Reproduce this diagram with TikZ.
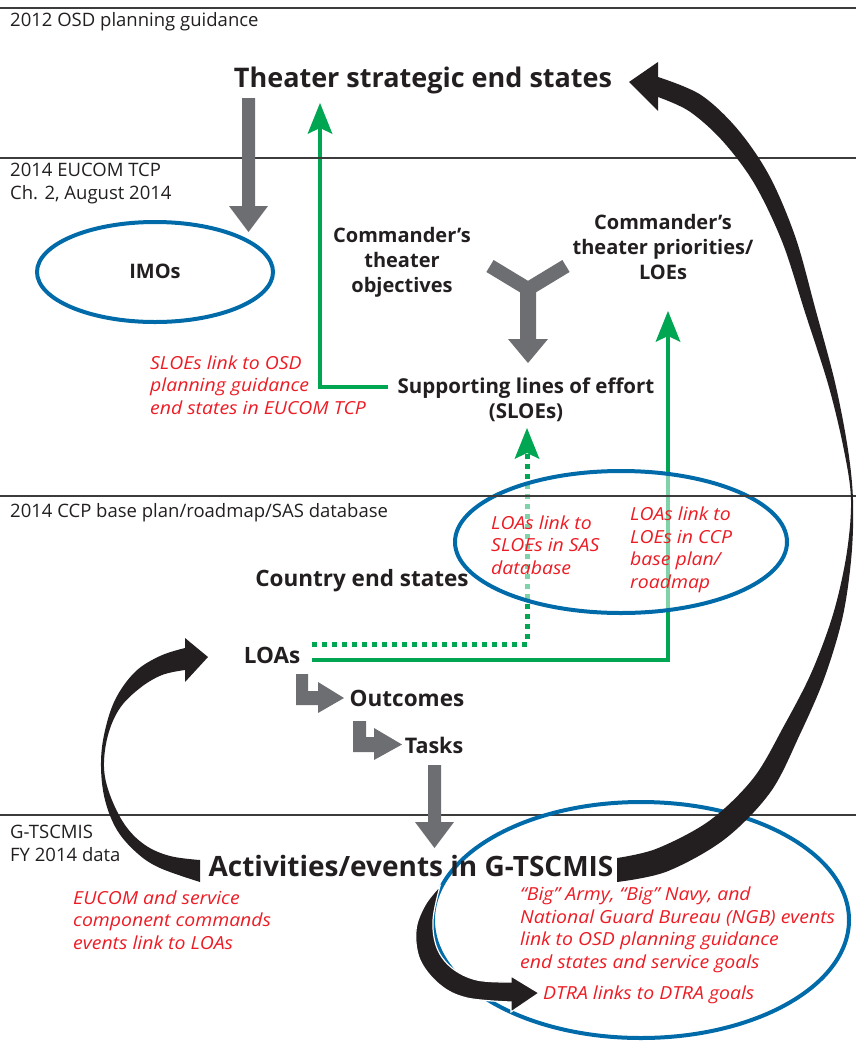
\documentclass[tikz,border=0pt]{standalone}
\usepackage{fontspec}
\setmainfont{Open Sans}
\newfontfamily\notefont{Open Sans}[FakeStretch=1.08]
\usetikzlibrary{arrows.meta,shapes.geometric}
\definecolor{tblack}{RGB}{35,31,32}
\definecolor{tred}{RGB}{237,28,36}
\definecolor{tgreen}{RGB}{0,166,81}
\definecolor{tblue}{RGB}{0,107,168}
\definecolor{tgray}{RGB}{109,110,113}
\definecolor{tline}{RGB}{60,60,60}
\tikzset{
  sect/.style={font=\fontsize{18.5}{23}\selectfont, text=tblack, anchor=west, align=left, inner sep=0pt},
  bnode/.style={font=\bfseries\fontsize{20}{25}\selectfont, text=tblack, align=center, inner sep=0pt},
  lownode/.style={bnode, font=\bfseries\fontsize{22.5}{25}\selectfont},
  rnote/.style={font=\notefont\itshape\fontsize{18}{22.5}\selectfont, text=tred, anchor=west, align=left, inner sep=0pt},
  sepline/.style={draw=tline, line width=1.1pt},
  gline/.style={draw=tgreen, line width=4.5pt},
  gdots/.style={draw=tgreen, line width=5pt, dash pattern=on 5pt off 5pt},
  ghead/.style={fill=tgreen},
  blockarrow/.style={fill=tgray},
  bigarrow/.style={fill=tblack},
  ring/.style={draw=tblue, line width=4pt},
}
\begin{document}
\begin{tikzpicture}[x=1pt,y=-1pt]
\useasboundingbox (0,0) rectangle (856,1042);

% ---------- green connectors ----------
\coordinate (g1a) at (388,387);
\coordinate (g1b) at (320,128);
\draw[gline] (g1a) -| (g1b);
\fill[ghead] (320,103) -- (332.5,134) -- (320,128) -- (307.5,134) -- cycle;

\coordinate (g2a) at (312,660);
\coordinate (g2b) at (668,336);
\draw[gline] (g2a) -| (g2b);
\fill[ghead] (668,311) -- (680.5,342) -- (668,336) -- (655.5,342) -- cycle;

\coordinate (d1) at (312,644);
\coordinate (d2) at (527,452);
\draw[gdots] (d1) -| (d2);
\fill[ghead] (527,428) -- (539.5,459) -- (527,453) -- (514.5,459) -- cycle;

% ---------- middle ellipse (semi-transparent) ----------
\node[ring, ellipse, minimum width=332pt, minimum height=142pt, fill=white, fill opacity=0.5, draw opacity=1] (midring) at (621,542) {};

% ---------- separator lines ----------
\draw[sepline] (0,8) -- (856,8);
\draw[sepline] (0,158) -- (856,158);
\draw[sepline] (0,496) -- (856,496);
\draw[sepline] (0,815) -- (856,815);

% ---------- other ellipses ----------
\node[ring, ellipse, minimum width=236pt, minimum height=100pt] (imoring) at (155,272) {};
\node[ring, ellipse, minimum width=416pt, minimum height=236pt] (botring) at (641,920) {};

% ---------- gray block arrows ----------
\fill[blockarrow] (242,98) -- (255,98) -- (255,206) -- (268,206) -- (248.5,232) -- (229,206) -- (242,206) -- cycle;
\fill[blockarrow] (428,765) -- (441,765) -- (441,822) -- (454,822) -- (434.5,848) -- (415,822) -- (428,822) -- cycle;
% Y shape
\draw[tgray, line width=14pt, line join=miter] (490,266) -- (528,289) -- (566,266);
\fill[blockarrow] (520,284) -- (536,284) -- (536,339) -- (548,339) -- (528,363) -- (508,339) -- (520,339) -- cycle;
% elbow arrows
\fill[blockarrow] (296,674) -- (308,674) -- (308,691) -- (318,691) -- (318,682) -- (344,698) -- (318,713) -- (318,705) -- (296,705) -- cycle;
\fill[blockarrow] (353,721) -- (366,721) -- (366,737) -- (374,737) -- (374,728) -- (402,744.5) -- (374,760) -- (374,752) -- (353,752) -- cycle;

% ---------- black curved arrows ----------
% right big arrow (outer edge, then inner edge back)
\fill[bigarrow] plot[smooth, tension=0.55] coordinates {(658,77) (700.5,94.7) (737.4,129) (769.5,176.1) (795.5,237.4) (815.2,308.3) (835.4,384.1) (848,449.7) (853,500) (851.5,555.3) (842.8,616.3) (824.5,677.6) (799.9,734.4) (770.6,791.9) (724.4,839.4) (666.9,871.5) (617,882)}
  -- (617,858)
  -- plot[smooth, tension=0.55] coordinates {(617,858) (657.1,848.5) (709.6,820.6) (753.4,778.1) (784.1,725.6) (811.5,672.4) (833.2,613.8) (846.5,554.7) (851,500) (844,450.3) (828.6,385.9) (804.8,311.7) (782.5,242.6) (754.5,183.9) (722.6,141) (689.5,111.4) (658,97)}
  -- cycle;
\fill[bigarrow] (658,62) -- (629,82) -- (658,111) -- cycle;
% left arrow
\fill[bigarrow] plot[smooth, tension=0.6] coordinates {(185,648) (160,656) (135,672) (115,700) (104,735) (101,767) (105,800) (117,830) (137,853) (160,868) (200,882)}
  -- (200,860)
  -- plot[smooth, tension=0.6] coordinates {(200,860) (170,856) (145,845) (125,825) (110,795) (104,767) (108,735) (120,708) (140,688) (162,675) (185,670)}
  -- cycle;
\fill[bigarrow] (185,638) -- (208,657) -- (185,682) -- cycle;
% DTRA arrow
\filldraw[bigarrow, draw=white, line width=1.2pt] plot[smooth, tension=0.6] coordinates {(440,886) (425,905) (416,930) (420,960) (440,985) (467,998) (511,1002)}
  -- (511,1012) -- (539,993) -- (511,976) -- (511,982)
  -- plot[smooth, tension=0.6] coordinates {(511,982) (477,980) (452,968) (437,948) (433,920) (440,886)}
  -- cycle;

% ---------- section labels ----------
\node[sect] (s1) at (10,22) {2012 OSD planning guidance};
\node[sect] (s2) at (10,184) {2014 EUCOM TCP\\Ch. 2, August 2014};
\node[sect] (s3) at (10,513) {2014 CCP base plan/roadmap/SAS database};
\node[sect] (s4) at (10,843) {G-TSCMIS\\FY 2014 data};

% ---------- main labels ----------
\node[bnode, font=\bfseries\fontsize{27}{30}\selectfont] (theater) at (423,80) {Theater strategic end states};
\node[bnode] (imo) at (155,271) {IMOs};
\node[bnode] (cto) at (402,262) {Commander’s\\theater\\objectives};
\node[bnode] (ctp) at (663,247) {Commander’s\\theater priorities/\\LOEs};
\node[bnode, font=\bfseries\fontsize{20.5}{25}\selectfont] (sloe) at (526,400) {Supporting lines of effort\\(SLOEs)};
\node[lownode] (ces) at (362,581) {Country end states};
\node[lownode] (loa) at (272,655) {LOAs};
\node[lownode] (out) at (407,698) {Outcomes};
\node[lownode, font=\bfseries\fontsize{21.5}{25}\selectfont] (tasks) at (434,745) {Tasks};
\node[bnode, font=\bfseries\fontsize{28}{32}\selectfont] (act) at (411,866) {Activities/events in G-TSCMIS};

% ---------- red notes ----------
\node[rnote] (n1) at (150,385) {SLOEs link to OSD\\planning guidance\\end states in EUCOM TCP};
\node[rnote] (n2) at (491,545) {LOAs link to\\SLOEs in SAS\\database};
\node[rnote] (n3) at (630,550) {LOAs link to\\LOEs in CCP\\base plan/\\roadmap};
\node[rnote] (n4) at (73,920) {EUCOM and service\\component commands\\events link to LOAs};
\node[rnote] (n5) at (520,930) {“Big” Army, “Big” Navy, and\\National Guard Bureau (NGB) events\\link to OSD planning guidance\\end states and service goals};
\node[rnote] (n6) at (543,995) {DTRA links to DTRA goals};
\end{tikzpicture}
\end{document}
